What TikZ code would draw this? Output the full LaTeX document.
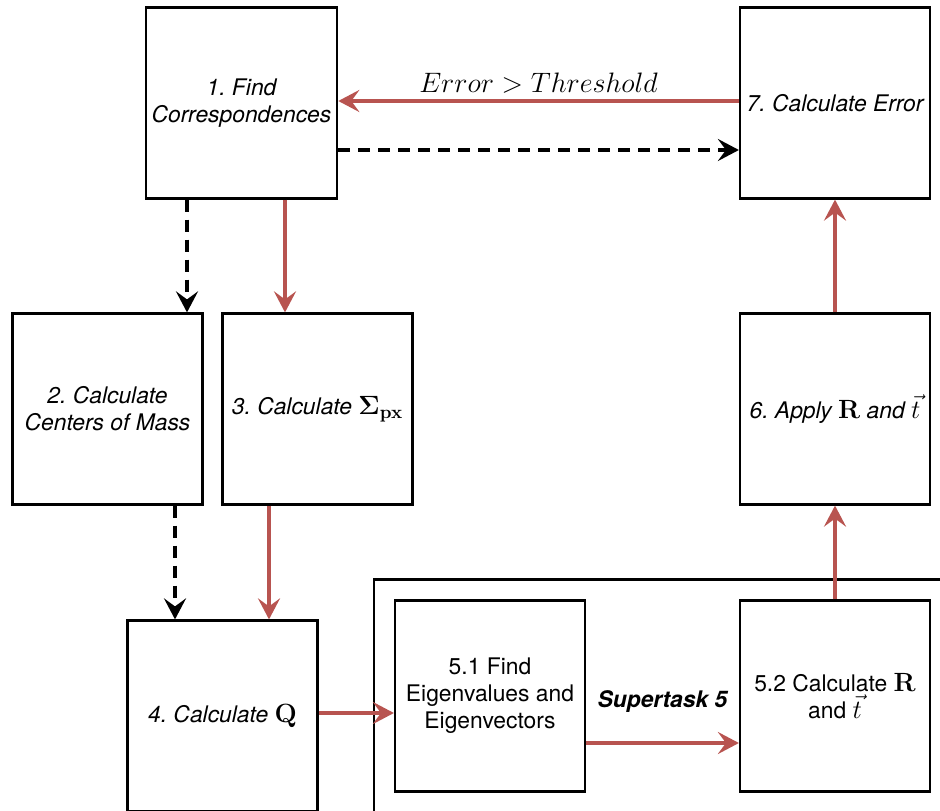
\RequirePackage{fix-cm}
\documentclass[tikz,border=0pt]{standalone}
\usepackage{amsmath}
\usepackage[no-math]{fontspec}
\setsansfont{TeX Gyre Heros}
\usetikzlibrary{arrows.meta,fit}
\definecolor{redline}{HTML}{B85450}
\DeclareMathSizes{13}{15}{10.5}{8}
\frenchspacing

\begin{document}
\begin{tikzpicture}[
    box/.style={draw,line width=1.25pt,minimum width=3.8cm,minimum height=3.82cm,align=center,
      font=\sffamily\itshape\fontsize{13}{15.4}\selectfont},
    plainbox/.style={box,font=\sffamily\fontsize{13}{15.4}\selectfont},
    flow/.style={redline,line width=2pt,-{Stealth[length=0.42cm,width=0.44cm,inset=0.16cm]}},
    dep/.style={black,line width=2pt,dash pattern=on 0.24cm off 0.16cm,
      -{Stealth[length=0.42cm,width=0.44cm,inset=0.16cm]}}
  ]
  \useasboundingbox (0,0) rectangle (18.8,-16.2);
  \clip (0,0) rectangle (18.8,-16.2);

      \node[box] (1) at (4.83,-2.06) {1. Find\\Correspondences};
      \node[box,right of=1,xshift=10.87cm] (7) {7. Calculate Error};
      \node[box,below of=1,yshift=-5.12cm,xshift=-2.68cm] (2) {2. Calculate\\Centers of Mass};
      \node[box,right of=2,xshift=3.2cm] (3) {3. Calculate $\mathbf{\Sigma_{px}}$};
      \node[box,below of=7,yshift=-5.12cm] (6) {6. Apply $\mathbf{R}$ and $\vec{t}$};
      \node[box,below of=3,yshift=-5.14cm,xshift=-1.9cm] (4) {4. Calculate $\mathbf{Q}$};
      \node[plainbox,below of=6,yshift=-4.74cm] (52) {5.2 Calculate $\mathbf{R}$\\and $\vec{t}$};
      \node[plainbox,left of=52,xshift=-5.9cm] (51) {5.1 Find\\Eigenvalues and\\Eigenvectors};
      \node[draw,line width=1.25pt,fit=(51)(52),inner sep=0.4cm,
        label={[yshift=-0.11cm,font=\sffamily\bfseries\itshape\fontsize{13}{15.4}\selectfont]center:Supertask 5}] (5) {};

      \draw[flow] ([yshift=0.04cm]7.west) -- node[above,text=black,font=\fontsize{16}{19}\selectfont] {$Error > Threshold$} ([yshift=0.04cm]1.east);
      \draw[dep] ([yshift=-0.94cm]1.east) -- ([yshift=-0.94cm]7.west);
      \draw[dep] ([xshift=-1.09cm]1.south) -- ([xshift=-1.09cm]1.south |- 2.north);
      \draw[flow] ([xshift=0.87cm]1.south) -- ([xshift=0.87cm]1.south |- 3.north);
      \draw[dep] ([xshift=1.35cm]2.south) -- ([xshift=1.35cm]2.south |- 4.north);
      \draw[flow] ([xshift=-0.97cm]3.south) -- ([xshift=-0.97cm]3.south |- 4.north);
      \draw[flow] ([yshift=0.06cm]4.east) -- ([yshift=0.06cm]4.east -| 51.west);
      \draw[flow] ([yshift=-0.94cm]51.east) -- ([yshift=-0.94cm]52.west);
      \draw[flow] (52.north) -- (6.south);
      \draw[flow] (6.north) -- (7.south);
    \end{tikzpicture}
\end{document}
